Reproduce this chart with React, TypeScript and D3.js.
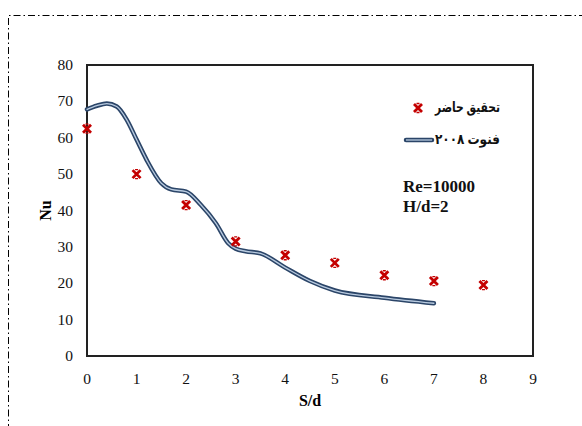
import React, { useEffect, useRef } from 'react';
import * as d3 from 'd3';

// measured points (present study)
const sdPoints = [0, 1, 2, 3, 4, 5, 6, 7, 8];
const nuPoints = [62.5, 50, 41.5, 31.5, 27.7, 25.6, 22.2, 20.6, 19.5];

// reference curve (2008)
const sdCurve = [0, 0.2, 0.4, 0.6, 0.8, 1, 1.2, 1.5, 1.7, 2, 2.3, 2.6, 2.85, 3, 3.2, 3.5, 4, 4.5, 5, 6, 7];
const nuCurve = [67.8, 68.8, 69.4, 68.6, 65, 59.5, 54, 47.5, 45.8, 45.2, 41.5, 36.5, 31, 29.5, 28.8, 28.2, 24.3, 20.6, 18, 16, 14.5];

const xTicks = [0, 1, 2, 3, 4, 5, 6, 7, 8, 9];
const yTicks = [0, 10, 20, 30, 40, 50, 60, 70, 80];

const legendLabels = ['تحقيق حاضر', 'فنوت ٢٠٠٨'];
const noteLines = ['Re=10000', 'H/d=2'];

const W = 582;
const H = 426;

export default function App() {
  const ref = useRef<SVGSVGElement>(null);

  useEffect(() => {
    if (!ref.current) return;
    const svg = d3.select(ref.current);
    svg.selectAll('*').remove();

    const left = 87, right = 533, top = 65, bottom = 356;
    const serif = "'Liberation Serif', 'Times New Roman', 'DejaVu Sans', serif";

    const x = d3.scaleLinear().domain([0, 9]).range([left, right]);
    const y = d3.scaleLinear().domain([0, 80]).range([bottom, top]);

    // outer dash-dot frame
    svg.append('path')
      .attr('d', `M8.5,${H + 5} L8.5,15.5 L${W + 5},15.5`)
      .attr('fill', 'none')
      .attr('stroke', '#000')
      .attr('stroke-width', 1)
      .attr('stroke-dasharray', '7,3,1.5,3');

    // plot box
    svg.append('rect')
      .attr('x', left).attr('y', top)
      .attr('width', right - left).attr('height', bottom - top)
      .attr('fill', 'none')
      .attr('stroke', '#222')
      .attr('stroke-width', 2);

    // y tick labels
    svg.append('g').selectAll('text')
      .data(yTicks).enter().append('text')
      .attr('x', left - 14)
      .attr('y', d => y(d) + 5)
      .attr('text-anchor', 'end')
      .attr('font-family', serif)
      .attr('font-size', 15.5)
      .attr('fill', '#111')
      .text(d => d);

    // x tick labels
    svg.append('g').selectAll('text')
      .data(xTicks).enter().append('text')
      .attr('x', d => x(d))
      .attr('y', bottom + 28)
      .attr('text-anchor', 'middle')
      .attr('font-family', serif)
      .attr('font-size', 15.5)
      .attr('fill', '#111')
      .text(d => d);

    // axis titles
    svg.append('text')
      .attr('x', x(4.5))
      .attr('y', bottom + 50)
      .attr('text-anchor', 'middle')
      .attr('font-family', serif)
      .attr('font-weight', 'bold')
      .attr('font-size', 16)
      .text('S/d');

    svg.append('text')
      .attr('transform', `translate(51,${y(40)}) rotate(-90)`)
      .attr('text-anchor', 'middle')
      .attr('font-family', serif)
      .attr('font-weight', 'bold')
      .attr('font-size', 16)
      .text('Nu');

    // curve: dark outline with light core
    const line = d3.line<number>()
      .x((d, i) => x(sdCurve[i]))
      .y(d => y(d))
      .curve(d3.curveMonotoneX);

    svg.append('path')
      .attr('d', line(nuCurve))
      .attr('fill', 'none')
      .attr('stroke', '#2b4568')
      .attr('stroke-width', 4.5)
      .attr('stroke-linecap', 'round');
    svg.append('path')
      .attr('d', line(nuCurve))
      .attr('fill', 'none')
      .attr('stroke', '#b9cbe0')
      .attr('stroke-width', 1.3)
      .attr('stroke-linecap', 'round');

    // x markers
    const drawMarker = (g: d3.Selection<SVGGElement, unknown, null, undefined>, cx: number, cy: number) => {
      const s = 4;
      g.append('path')
        .attr('d', `M${cx - s},${cy - s}L${cx + s},${cy + s}M${cx + s},${cy - s}L${cx - s},${cy + s}`)
        .attr('stroke', '#c40000')
        .attr('stroke-width', 2.8)
        .attr('fill', 'none');
      g.append('path')
        .attr('d', `M${cx - 1.5},${cy - s - 0.5}L${cx + 1.5},${cy - s - 0.5}M${cx - 1.5},${cy + s + 0.5}L${cx + 1.5},${cy + s + 0.5}`)
        .attr('stroke', '#c40000')
        .attr('stroke-width', 1.3)
        .attr('fill', 'none');
    };
    const mg = svg.append('g');
    nuPoints.forEach((v, i) => drawMarker(mg, x(sdPoints[i]), y(v)));

    // legend
    const lg = svg.append('g');
    drawMarker(lg, 418, 108);
    lg.append('text')
      .attr('x', 500).attr('y', 112)
      .attr('text-anchor', 'end')
      .attr('font-family', serif)
      .attr('font-weight', 'bold')
      .attr('font-size', 14)
      .attr('textLength', 65)
      .attr('lengthAdjust', 'spacingAndGlyphs')
      .attr('fill', '#111')
      .text(legendLabels[0]);

    lg.append('line')
      .attr('x1', 406).attr('x2', 432).attr('y1', 140).attr('y2', 140)
      .attr('stroke', '#2b4568').attr('stroke-width', 4.5).attr('stroke-linecap', 'round');
    lg.append('line')
      .attr('x1', 406).attr('x2', 432).attr('y1', 140).attr('y2', 140)
      .attr('stroke', '#b9cbe0').attr('stroke-width', 1.3);
    lg.append('text')
      .attr('x', 500).attr('y', 144)
      .attr('text-anchor', 'end')
      .attr('font-family', serif)
      .attr('font-weight', 'bold')
      .attr('font-size', 14)
      .attr('textLength', 65)
      .attr('lengthAdjust', 'spacingAndGlyphs')
      .attr('fill', '#111')
      .text(legendLabels[1]);

    // annotation
    svg.append('g').selectAll('text')
      .data(noteLines).enter().append('text')
      .attr('x', 403)
      .attr('y', (d, i) => 192 + i * 20)
      .attr('font-family', serif)
      .attr('font-weight', 'bold')
      .attr('font-size', 17)
      .attr('fill', '#111')
      .text(d => d);
  }, []);

  return (
    <svg
      ref={ref}
      width={W}
      height={H}
      style={{ position: 'absolute', left: 0, top: 0, background: '#fff' }}
    />
  );
}
